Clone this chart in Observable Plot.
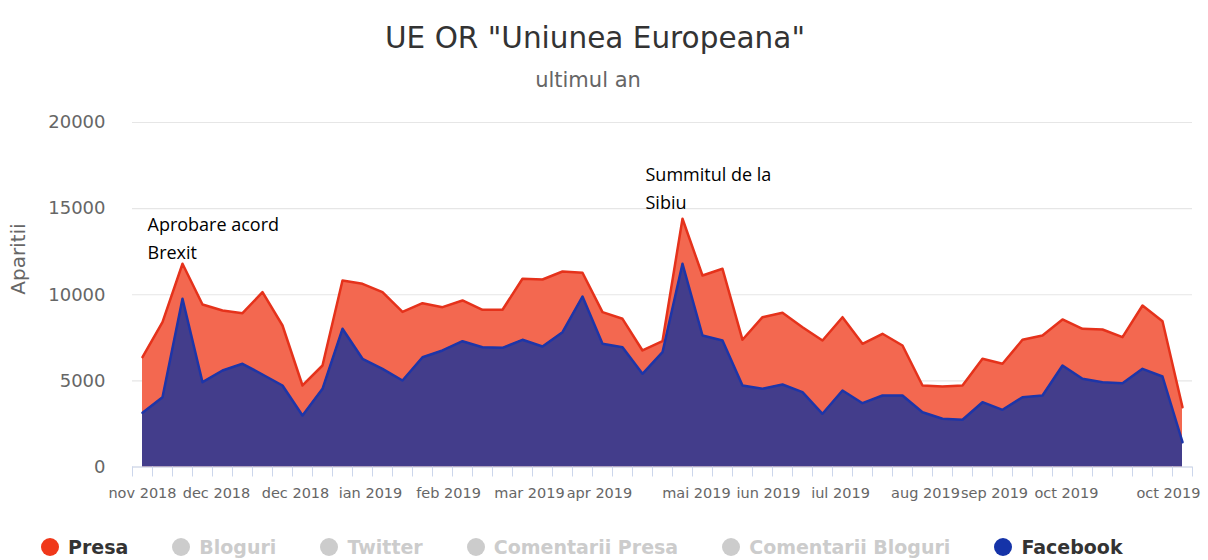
<!DOCTYPE html>
<html>
<head>
<meta charset="utf-8">
<script src="https://cdn.jsdelivr.net/npm/d3@7"></script>
<script src="https://cdn.jsdelivr.net/npm/@observablehq/plot@0.6"></script>
<style>
  html, body { margin: 0; padding: 0; background: #fff; }
  #wrap { position: relative; width: 1208px; height: 560px; overflow: hidden; font-family: "DejaVu Sans", sans-serif; }
  #title { position: absolute; left: 0; width: 1190px; top: 22px; text-align: center; font-size: 29.5px; color: #333; line-height: 32px; }
  #subtitle { position: absolute; left: 0; width: 1176px; top: 67px; text-align: center; font-size: 21px; color: #666; line-height: 26px; }
  #chart { position: absolute; left: 0; top: 100px; }
  #legend { position: absolute; left: 41px; top: 535px; display: flex; align-items: center; white-space: nowrap; }
  .item { display: flex; align-items: center; margin-right: 44px; font-size: 19px; font-weight: bold; line-height: 24px; }
  .dot { width: 18px; height: 18px; border-radius: 50%; margin-right: 9px; }
</style>
</head>
<body>
<div id="wrap">
  <div id="title"></div>
  <div id="subtitle"></div>
  <div id="chart"></div>
  <div id="legend"></div>
</div>
<script>
const titleText = 'UE OR "Uniunea Europeana"';
const subtitleText = "ultimul an";
const yTitle = "Aparitii";

// weekly values, Nov 2018 – Oct 2019
const presa = [6375, 8407, 11798, 9435, 9086, 8930, 10149, 8215, 4732, 5893,
  10828, 10636, 10149, 9000, 9510, 9278, 9667, 9127, 9127, 10927,
  10886, 11351, 11275, 8988, 8604, 6764, 7304, 14411, 11119, 11507,
  7385, 8697, 8953, 8117, 7345, 8697, 7153, 7734, 7054, 4732,
  4674, 4732, 6282, 5992, 7385, 7635, 8564, 8024, 7983, 7536,
  9377, 8465, 3472];
const facebook = [3147, 4053, 9766, 4923, 5603, 5992, 5371, 4732, 2990, 4540,
  8024, 6282, 5701, 5022, 6375, 6764, 7304, 6956, 6921, 7385,
  6996, 7827, 9899, 7153, 6956, 5411, 6665, 11798, 7635, 7345,
  4732, 4540, 4790, 4343, 3089, 4442, 3704, 4151, 4151, 3182,
  2798, 2740, 3762, 3321, 4053, 4151, 5893, 5121, 4923, 4865,
  5701, 5254, 1440];

const xTickLabels = ["nov 2018", "dec 2018", "dec 2018", "ian 2019", "feb 2019", "mar 2019", "apr 2019",
  "mai 2019", "iun 2019", "iul 2019", "aug 2019", "sep 2019", "oct 2019", "oct 2019"];
const xTickWeeks = [0, 3.7, 7.65, 11.4, 15.3, 19.35, 22.85, 27.7, 31.3, 34.9, 39.15, 42.6, 46.2, 51.3];
const yTicks = [0, 5000, 10000, 15000, 20000];

const annotations = [
  {week: 0.25, value: 13400, label: "Aprobare acord\nBrexit"},
  {week: 25.15, value: 16300, label: "Summitul de la\nSibiu"}
];

const legendItems = [
  {name: "Presa", color: "#f0381a", active: true},
  {name: "Bloguri", color: "#cccccc", active: false},
  {name: "Twitter", color: "#cccccc", active: false},
  {name: "Comentarii Presa", color: "#cccccc", active: false},
  {name: "Comentarii Bloguri", color: "#cccccc", active: false},
  {name: "Facebook", color: "#1533a8", active: true}
];

document.getElementById("title").textContent = titleText;
document.getElementById("subtitle").textContent = subtitleText;

const rows = presa.map((p, i) => ({week: i, presa: p, facebook: facebook[i]}));
const n = presa.length;
const labelMap = new Map(xTickWeeks.map((w, i) => [w, xTickLabels[i]]));
const catEdges = d3.range(n + 1).map(i => i - 0.5);

const chart = Plot.plot({
  width: 1208,
  height: 410,
  marginTop: 22,
  marginBottom: 43.5,
  marginLeft: 132,
  marginRight: 16,
  style: {fontFamily: "DejaVu Sans", background: "transparent", overflow: "visible"},
  x: {domain: [-0.5, n - 0.5]},
  y: {domain: [0, 20000]},
  marks: [
    Plot.gridY(yTicks, {stroke: "#e6e6e6", strokeOpacity: 1, strokeWidth: 1.2}),
    Plot.areaY(rows, {x: "week", y: "presa", fill: "#f36850"}),
    Plot.lineY(rows, {x: "week", y: "presa", stroke: "#e5321b", strokeWidth: 2.5}),
    Plot.areaY(rows, {x: "week", y: "facebook", fill: "#433d8b"}),
    Plot.lineY(rows, {x: "week", y: "facebook", stroke: "#1d35a8", strokeWidth: 2.5}),
    Plot.ruleY([0], {stroke: "#ccd6eb", strokeWidth: 1.2}),
    Plot.axisX(catEdges, {tickSize: 10, tickFormat: () => "", stroke: "#ccd6eb", label: null}),
    Plot.axisX(xTickWeeks, {tickSize: 0, tickPadding: 21, tickFormat: d => labelMap.get(d), fontSize: 14.5, color: "#666", label: null}),
    Plot.axisY(yTicks, {tickSize: 0, tickPadding: 27, fontSize: 18, color: "#666", label: null, tickFormat: d => String(d)}),
    Plot.text([yTitle], {frameAnchor: "left", dx: -114, rotate: -90, fontSize: 20, fill: "#666"}),
    Plot.text(annotations, {x: "week", y: "value", text: "label", textAnchor: "start", lineAnchor: "middle", lineHeight: 1.55, fontSize: 18, fontFamily: "Open Sans", fill: "#000"})
  ]
});
document.getElementById("chart").appendChild(chart);

const legend = document.getElementById("legend");
for (const it of legendItems) {
  const el = document.createElement("div");
  el.className = "item";
  el.style.color = it.active ? "#333" : "#cccccc";
  const dot = document.createElement("div");
  dot.className = "dot";
  dot.style.background = it.color;
  const txt = document.createElement("span");
  txt.textContent = it.name;
  el.appendChild(dot);
  el.appendChild(txt);
  legend.appendChild(el);
}
</script>
</body>
</html>
